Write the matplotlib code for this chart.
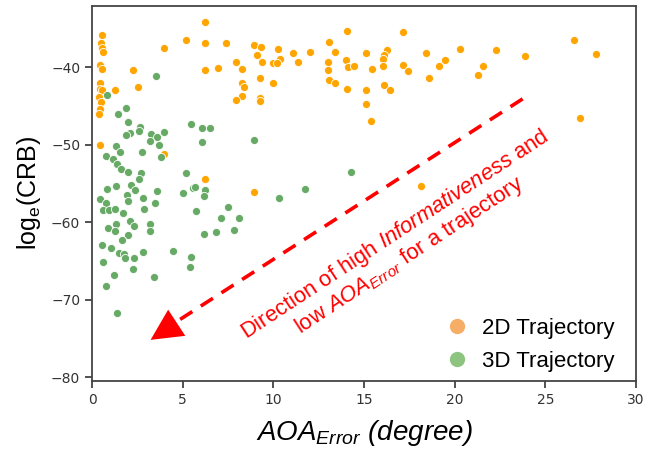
import matplotlib
matplotlib.use("Agg")
import matplotlib.pyplot as plt
from matplotlib.lines import Line2D

# 2D trajectory points (AOA error in degree, log_e CRB)
x_2d = [0.53, 0.48, 0.57, 0.61, 0.44, 0.53, 0.42, 0.44, 0.56, 0.39, 0.48, 0.42, 0.39, 0.44,
        5.18, 3.96, 2.24, 2.55, 1.26, 3.96, 6.22, 6.22, 7.37, 8.92, 9.29, 9.07, 9.37, 7.94,
        8.26, 6.94, 6.22, 10.26, 10.37, 9.96, 10.2, 11.07, 11.35, 12.0, 9.26, 9.98, 8.26,
        8.37, 8.26, 7.92, 9.26, 9.26, 13.09, 13.37, 13.0, 13.0, 13.09, 13.41, 14.02, 14.11,
        14.42, 14.07, 14.07, 6.22, 8.92, 17.13, 15.11, 16.29, 16.11, 16.06, 16.06, 15.41,
        17.13, 17.41, 18.43, 19.44, 19.15, 18.56, 20.28, 21.56, 21.28, 22.28, 23.89, 26.59,
        27.79, 15.11, 16.11, 16.41, 15.09, 15.39, 26.89, 18.14]
y_2d = [-35.9, -36.9, -37.5, -38.0, -39.7, -40.2, -42.0, -42.8, -43.0, -43.8, -44.5, -45.4, -46.1, -50.0,
        -36.5, -37.5, -40.4, -42.6, -43.0, -51.2, -34.2, -36.9, -36.9, -37.2, -37.4, -38.4, -39.3, -39.4,
        -40.3, -40.1, -40.4, -37.7, -38.9, -39.5, -39.5, -38.2, -39.3, -38.0, -41.4, -42.0, -42.1,
        -42.6, -43.7, -44.2, -44.0, -44.4, -36.7, -38.0, -39.4, -40.4, -41.6, -42.1, -39.1, -40.0,
        -39.8, -35.3, -42.8, -54.5, -56.1, -35.5, -38.2, -37.8, -38.4, -39.0, -39.9, -40.2,
        -39.7, -40.5, -38.2, -39.1, -39.9, -41.4, -37.6, -39.8, -41.0, -37.8, -38.6, -36.5,
        -38.3, -42.9, -42.3, -42.9, -44.8, -47.0, -46.6, -55.3]

# 3D trajectory points
x_3d = [3.53, 0.85, 1.85, 1.41, 1.96, 2.67, 5.48, 2.11, 1.87, 2.61, 3.26, 3.59, 3.96, 3.22,
        1.31, 3.67, 1.54, 0.76, 1.18, 1.37, 1.59, 1.96, 2.74, 3.81, 2.70, 2.61, 2.15, 2.39,
        1.31, 0.85, 1.92, 1.96, 0.44, 0.79, 0.63, 0.94, 1.26, 1.72, 2.79, 2.85, 3.59, 3.48,
        5.20, 5.02, 5.57, 5.76, 2.11, 1.31, 2.29, 0.89, 1.29, 3.22, 3.18, 2.00, 1.65, 0.57,
        1.03, 1.46, 1.74, 1.81, 2.33, 2.81, 4.46, 5.48, 5.39, 0.59, 2.26, 1.20, 3.41, 0.76,
        1.35, 6.09, 6.52, 6.09, 8.91, 14.3, 5.68, 6.22, 6.19, 11.74, 10.33, 7.52, 7.13, 8.11,
        7.85, 6.85, 6.15]
y_3d = [-41.2, -43.6, -45.3, -46.0, -47.1, -47.7, -47.3, -48.5, -48.8, -48.3, -48.6, -49.0, -48.4, -49.6,
        -50.2, -50.1, -50.9, -51.5, -51.8, -52.5, -53.2, -53.5, -51.0, -51.6, -53.7, -54.4, -55.2, -55.8,
        -55.3, -55.7, -56.5, -57.3, -57.0, -57.5, -58.5, -58.5, -58.3, -58.8, -56.9, -58.3, -56.0, -57.6,
        -53.7, -56.2, -55.6, -58.6, -59.8, -60.2, -60.5, -60.8, -61.2, -60.3, -61.1, -61.7, -62.3, -62.9,
        -63.4, -64.0, -64.1, -64.6, -64.7, -63.8, -63.7, -64.5, -65.8, -65.2, -66.0, -66.8, -67.1, -68.2,
        -71.8, -47.8, -47.9, -49.7, -49.4, -53.5, -55.5, -55.9, -56.6, -55.7, -56.9, -58.1, -59.5, -59.5,
        -61.0, -61.3, -61.6]

series_names = ["2D Trajectory", "3D Trajectory"]
x_ticks = [0, 5, 10, 15, 20, 25, 30]
y_ticks = [-80, -70, -60, -50, -40]

plt.rcParams['mathtext.fontset'] = 'custom'
plt.rcParams['mathtext.rm'] = 'Liberation Sans'
plt.rcParams['mathtext.it'] = 'Liberation Sans:italic'

fig, ax = plt.subplots(figsize=(6.62, 4.54), dpi=100)
fig.subplots_adjust(left=0.139, right=0.961, top=0.987, bottom=0.161)

ax.scatter(x_2d, y_2d, s=34, color='#FFA500', edgecolor='white', linewidth=0.6, zorder=3)
ax.scatter(x_3d, y_3d, s=34, color='#66AA66', edgecolor='white', linewidth=0.6, zorder=3)

ax.set_xlim(0, 30)
ax.set_ylim(-80.5, -32.1)
ax.set_xticks(x_ticks)
ax.set_yticks(y_ticks)
ax.tick_params(labelsize=10, labelcolor='#333333', color='#333333', length=5, width=1.2)
for sp in ax.spines.values():
    sp.set_color('#444444')
    sp.set_linewidth(1.3)

ax.set_xlabel(r"$AOA_{Error}$ (degree)", fontsize=20, family='Liberation Sans',
              style='italic', labelpad=8)
ax.set_ylabel(r"log$_\mathrm{e}$(CRB)", fontsize=18, family='Liberation Sans', labelpad=6)

# dashed red arrow
ax.plot([23.74, 4.3], [-44.1, -73.4], color='red', lw=2.6, dashes=(4, 2.8), zorder=4)
ax.annotate('', xy=(3.1, -75.4), xytext=(4.6, -73.1),
            arrowprops=dict(arrowstyle='-|>,head_length=0.9,head_width=0.45',
                            color='red', lw=0, mutation_scale=25), zorder=4)

ax.text(17.1, -63.0,
        "Direction of high $\\it{Informativeness}$ and\nlow $\\it{AOA_{Error}}$ for a trajectory",
        rotation=33.3, rotation_mode='anchor', ha='center', va='center',
        multialignment='center', color='red', fontsize=15.8, family='Liberation Sans',
        linespacing=1.05, zorder=5)

handles = [Line2D([], [], ls='', marker='o', markersize=11, color='#F6AD66', markeredgewidth=0),
           Line2D([], [], ls='', marker='o', markersize=11, color='#8DC47F', markeredgewidth=0)]
ax.legend(handles, series_names, loc='lower right', bbox_to_anchor=(0.976, 0.0),
          frameon=False, prop={'family': 'Liberation Sans', 'size': 16}, handletextpad=0.1,
          labelspacing=0.55, borderaxespad=0.0)

fig.savefig("out.png", dpi=100)
